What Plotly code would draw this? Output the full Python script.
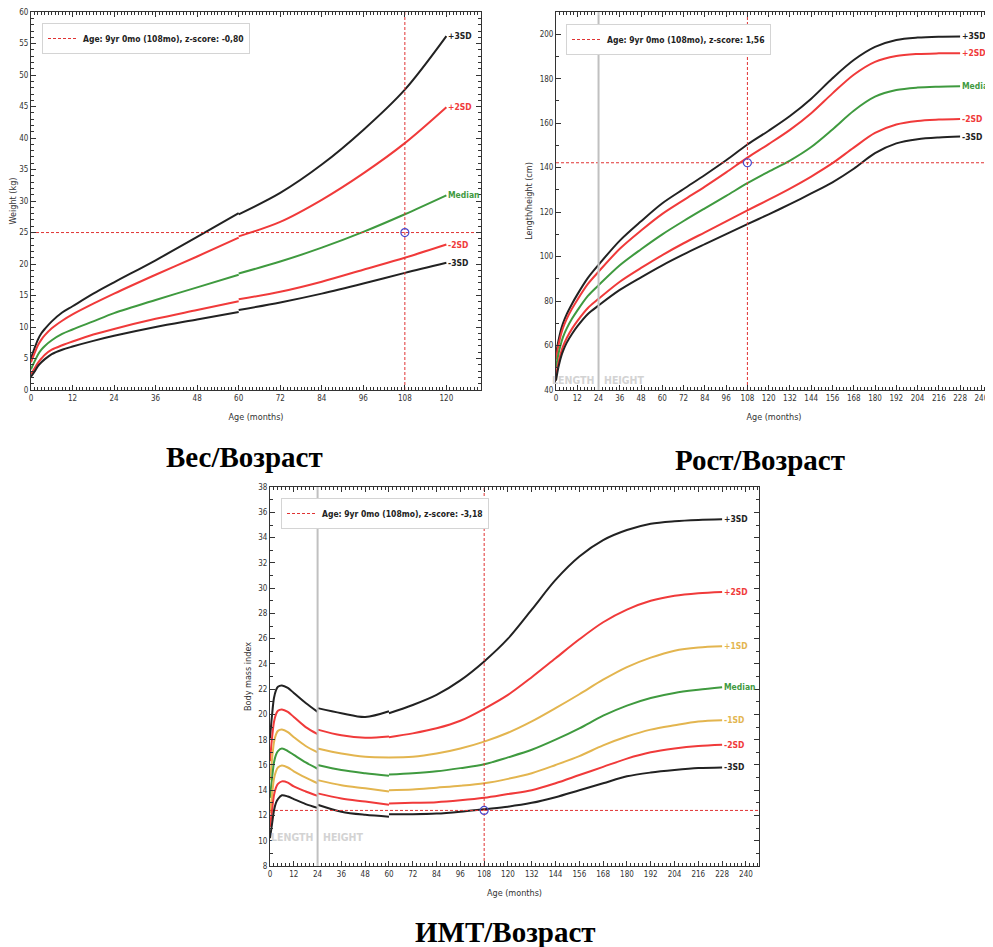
import plotly.graph_objects as go

# ---------------- DATA ----------------
# Weight-for-age (kg); None separates the 0-5 y and 5-10 y references (both start at 60 months)
W_AGES = [0, 1, 2, 3, 4, 6, 9, 12, 18, 24, 36, 48, 60, None, 60, 72, 84, 96, 108, 120]
W_P3 = [5.0, 6.6, 8.0, 9.0, 9.7, 10.9, 12.3, 13.3, 15.3, 17.1, 20.6, 24.3, 28.1, None, 27.9, 31.3, 35.8, 41.3, 47.7, 56.2]
W_P2 = [4.4, 5.8, 7.1, 8.0, 8.7, 9.8, 11.0, 12.0, 13.7, 15.3, 18.3, 21.2, 24.2, None, 24.4, 26.7, 30.2, 34.4, 39.2, 44.9]
W_MED = [3.3, 4.5, 5.6, 6.4, 7.0, 7.9, 8.9, 9.6, 10.9, 12.2, 14.3, 16.3, 18.3, None, 18.5, 20.4, 22.6, 25.1, 27.9, 30.9]
W_M2 = [2.5, 3.4, 4.3, 5.0, 5.6, 6.4, 7.1, 7.7, 8.8, 9.7, 11.3, 12.7, 14.1, None, 14.4, 15.6, 17.2, 19.1, 21.0, 23.1]
W_M3 = [2.1, 2.9, 3.8, 4.4, 4.9, 5.7, 6.4, 6.9, 7.8, 8.6, 10.0, 11.2, 12.4, None, 12.7, 13.9, 15.3, 16.9, 18.6, 20.2]
W_POINT = 25.0
W_LABEL = "Age: 9yr 0mo (108mo), z-score: -0,80"

# Length/height-for-age (cm)
H_AGES = [0, 1, 2, 3, 4, 6, 9, 12, 18, 24, 36, 48, 60, 72, 84, 96, 108, 120, 132, 144, 156, 168, 180, 192, 204, 216, 228]
H_P3 = [55.6, 60.6, 64.4, 67.6, 70.1, 74.0, 78.7, 82.9, 90.4, 96.3, 107.2, 115.9, 124.0, 130.4, 136.7, 143.3, 150.4, 156.6, 163.2, 171.0, 180.2, 188.4, 194.3, 197.4, 198.5, 198.9, 199.0]
H_P2 = [53.7, 58.6, 62.4, 65.5, 68.0, 71.9, 76.5, 80.5, 87.7, 93.2, 103.5, 111.7, 119.2, 125.4, 131.5, 137.9, 144.5, 150.6, 157.0, 164.5, 173.4, 181.8, 187.6, 190.2, 191.1, 191.4, 191.5]
H_MED = [49.9, 54.7, 58.4, 61.4, 63.9, 67.6, 72.0, 75.7, 82.3, 87.1, 96.1, 103.3, 110.0, 116.0, 121.7, 127.3, 133.0, 138.2, 143.2, 149.3, 157.2, 165.6, 171.9, 174.9, 176.0, 176.4, 176.6]
H_M2 = [46.1, 50.8, 54.4, 57.3, 59.7, 63.3, 67.5, 71.0, 76.9, 81.0, 88.7, 94.9, 100.7, 106.0, 110.9, 115.8, 120.8, 125.6, 130.6, 136.0, 142.0, 149.0, 155.6, 159.4, 161.0, 161.6, 161.9]
H_M3 = [44.2, 48.9, 52.4, 55.3, 57.6, 61.2, 65.2, 68.6, 74.2, 78.0, 85.0, 90.7, 96.1, 101.0, 105.6, 110.1, 114.6, 119.0, 123.6, 128.4, 133.4, 139.5, 146.5, 150.9, 152.8, 153.6, 154.0]
H_POINT = 142.2
H_LABEL = "Age: 9yr 0mo (108mo), z-score: 1,56"

# BMI-for-age (None = break between length / height and between the two references)
B_AGES = [0, 1, 2, 3, 4, 6, 9, 12, 18, 24, None, 24, 36, 48, 60, None, 60, 72, 84, 96, 108, 120, 132, 144, 156, 168, 180, 192, 204, 216, 228]
B_P3 = [18.1, 19.9, 21.3, 21.9, 22.2, 22.3, 22.1, 21.7, 20.9, 20.2, None, 20.5, 20.1, 19.8, 20.25, None, 20.1, 20.75, 21.55, 22.7, 24.2, 26.0, 28.3, 30.65, 32.5, 33.8, 34.6, 35.1, 35.3, 35.4, 35.45]
B_P2 = [16.3, 18.1, 19.4, 20.0, 20.3, 20.4, 20.2, 19.8, 19.0, 18.45, None, 18.8, 18.35, 18.15, 18.25, None, 18.2, 18.5, 18.9, 19.5, 20.45, 21.55, 22.95, 24.45, 25.95, 27.3, 28.3, 29.0, 29.4, 29.6, 29.7]
B_P1 = [14.8, 16.4, 17.8, 18.4, 18.7, 18.8, 18.6, 18.2, 17.5, 17.0, None, 17.3, 16.9, 16.65, 16.6, None, 16.6, 16.65, 16.9, 17.3, 17.85, 18.55, 19.45, 20.5, 21.6, 22.75, 23.75, 24.5, 25.05, 25.3, 25.4]
B_MED = [13.4, 14.9, 16.2, 16.8, 17.1, 17.3, 17.1, 16.8, 16.2, 15.7, None, 16.0, 15.6, 15.35, 15.15, None, 15.25, 15.35, 15.5, 15.75, 16.05, 16.6, 17.2, 18.0, 18.9, 19.9, 20.7, 21.3, 21.7, 21.95, 22.15]
B_M1 = [12.2, 13.6, 14.9, 15.5, 15.8, 15.95, 15.8, 15.5, 15.0, 14.55, None, 14.8, 14.4, 14.15, 13.9, None, 14.0, 14.05, 14.2, 14.35, 14.55, 14.9, 15.35, 16.0, 16.7, 17.55, 18.25, 18.8, 19.15, 19.45, 19.55]
B_M2 = [11.1, 12.4, 13.6, 14.2, 14.5, 14.7, 14.6, 14.3, 13.9, 13.55, None, 13.75, 13.35, 13.1, 12.85, None, 12.95, 13.0, 13.05, 13.2, 13.4, 13.7, 14.0, 14.55, 15.2, 15.85, 16.5, 17.0, 17.3, 17.5, 17.6]
B_M3 = [10.2, 11.3, 12.4, 13.0, 13.3, 13.6, 13.5, 13.3, 12.9, 12.6, None, 12.85, 12.3, 12.05, 11.9, None, 12.1, 12.1, 12.15, 12.3, 12.5, 12.7, 13.0, 13.45, 14.0, 14.55, 15.1, 15.4, 15.6, 15.75, 15.8]
B_POINT = 12.4
B_LABEL = "Age: 9yr 0mo (108mo), z-score: -3,18"

POINT_AGE = 108
SWITCH_AGE = 24

TITLES = ["Вес/Возраст", "Рост/Возраст", "ИМТ/Возраст"]

# ---------------- STYLE ----------------
PAGE_OFFSET = 8          # default body margin of the html page
W, H = 993 - PAGE_OFFSET, 947 - PAGE_OFFSET
FONT = "Liberation Sans Narrow, Arial Narrow, DejaVu Sans Condensed, Liberation Sans, Arial, sans-serif"
SERIF = "Liberation Serif, Times New Roman, serif"
BLACK = "#222222"
RED = "#f03a3a"
GREEN = "#3f9a3f"
GOLD = "#e3b54f"
AX = "#333333"

fig = go.Figure()


def add_curves(ages, series, xa, ya):
    for name, vals, color in series:
        fig.add_trace(go.Scatter(
            x=ages, y=vals, mode="lines", xaxis=xa, yaxis=ya,
            line=dict(color=color, width=2, shape="spline", smoothing=0.9),
            connectgaps=False, showlegend=False, hoverinfo="skip"))
        lastx = [a for a in ages if a is not None][-1]
        lasty = [v for v in vals if v is not None][-1]
        fig.add_annotation(x=lastx, y=lasty, xref=xa, yref=ya, text=name,
                           showarrow=False, xanchor="left", xshift=0,
                           font=dict(color=color, size=8.5, family=FONT, weight="bold"))


def add_point(xa, ya, legend, label, val, xr, yr):
    fig.add_trace(go.Scatter(
        x=[POINT_AGE, POINT_AGE, None, xr[0], xr[1]],
        y=[yr[0], yr[1], None, val, val],
        mode="lines", xaxis=xa, yaxis=ya, name=label, legend=legend,
        line=dict(color="#e03333", width=1, dash="3px,2px"),
        connectgaps=False, showlegend=True, hoverinfo="skip"))
    fig.add_trace(go.Scatter(
        x=[POINT_AGE], y=[val], mode="markers", xaxis=xa, yaxis=ya,
        marker=dict(symbol="circle-open", size=8, color="#4a4acc", line=dict(width=1.2)),
        showlegend=False, hoverinfo="skip"))


W_XR, W_YR = [0, 130], [0, 60.02]
H_XR, H_YR = [0, 246], [40, 210]
B_XR, B_YR = [0, 246.6], [8, 38.01]

add_curves(W_AGES, [("+3SD", W_P3, BLACK), ("+2SD", W_P2, RED), ("Median", W_MED, GREEN),
                    ("-2SD", W_M2, RED), ("-3SD", W_M3, BLACK)], "x", "y")
add_point("x", "y", "legend", W_LABEL, W_POINT, W_XR, W_YR)

add_curves(H_AGES, [("+3SD", H_P3, BLACK), ("+2SD", H_P2, RED), ("Median", H_MED, GREEN),
                    ("-2SD", H_M2, RED), ("-3SD", H_M3, BLACK)], "x2", "y2")
add_point("x2", "y2", "legend2", H_LABEL, H_POINT, H_XR, H_YR)

add_curves(B_AGES, [("+3SD", B_P3, BLACK), ("+2SD", B_P2, RED), ("+1SD", B_P1, GOLD),
                    ("Median", B_MED, GREEN), ("-1SD", B_M1, GOLD), ("-2SD", B_M2, RED),
                    ("-3SD", B_M3, BLACK)], "x3", "y3")
add_point("x3", "y3", "legend3", B_LABEL, B_POINT, B_XR, B_YR)


def axis(domain, rng, dtick, minor, title, anchor, standoff):
    return dict(
        domain=domain, range=rng, dtick=dtick, tick0=0, anchor=anchor,
        showline=True, linecolor=AX, linewidth=1, mirror="ticks",
        ticks="inside", ticklen=5, tickwidth=1, tickcolor=AX,
        minor=dict(ticks="inside", ticklen=3, tickcolor=AX, dtick=minor, tick0=0, showgrid=False),
        showgrid=False, zeroline=False, automargin=False, ticklabeloverflow="allow",
        tickfont=dict(size=8, color=AX, family=FONT),
        title=dict(text=title, font=dict(size=9, color=AX, family=FONT), standoff=standoff),
    )


def px_x(p):
    return (p - PAGE_OFFSET) / W


def px_y(p):
    return 1 - (p - PAGE_OFFSET) / H


top_dom = [px_y(390), px_y(12)]
fig.update_layout(
    xaxis=axis([px_x(31), px_x(481)], W_XR, 12, 1, "Age (months)", "y", 12),
    yaxis=axis(top_dom, W_YR, 5, 1, "Weight (kg)", "x", 5),
    xaxis2=axis([px_x(556), px_x(992)], H_XR, 12, 2, "Age (months)", "y2", 12),
    yaxis2=axis(top_dom, H_YR, 20, 10, "Length/height (cm)", "x2", 5),
    xaxis3=axis([px_x(270), px_x(759)], B_XR, 12, 2, "Age (months)", "y3", 12),
    yaxis3=axis([px_y(866), px_y(487)], B_YR, 2, 1, "Body mass index", "x3", 5),
)

legend_style = dict(xanchor="left", yanchor="top", bgcolor="white", bordercolor="#d4d4d4",
                    borderwidth=1, itemwidth=30,
                    font=dict(size=8.5, family=FONT, color="#222", weight="bold"))
fig.update_layout(
    legend=dict(x=px_x(42), y=px_y(23), **legend_style),
    legend2=dict(x=px_x(566), y=px_y(24), **legend_style),
    legend3=dict(x=px_x(281), y=px_y(498), **legend_style),
)

# length / height switch marker
for xa, ya, txt_y in [("x2", "y2", 44.5), ("x3", "y3", 10.3)]:
    fig.add_shape(type="line", xref=xa, yref=ya + " domain",
                  x0=SWITCH_AGE, x1=SWITCH_AGE, y0=0, y1=1,
                  line=dict(color="#c0c0c0", width=2), layer="above")
    fig.add_annotation(x=SWITCH_AGE, y=txt_y, xref=xa, yref=ya, text="LENGTH", showarrow=False,
                       xanchor="right", xshift=-3,
                       font=dict(size=10.5, color="#d3d3d3", family=FONT, weight="bold"))
    fig.add_annotation(x=SWITCH_AGE, y=txt_y, xref=xa, yref=ya, text="HEIGHT", showarrow=False,
                       xanchor="left", xshift=3,
                       font=dict(size=10.5, color="#d3d3d3", family=FONT, weight="bold"))

# chart titles
for txt, cx, cy in [(TITLES[0], 244, 457), (TITLES[1], 760, 460), (TITLES[2], 505, 932)]:
    fig.add_annotation(x=px_x(cx), y=px_y(cy), xref="paper", yref="paper", text=txt,
                       showarrow=False, xanchor="center", yanchor="middle",
                       font=dict(size=29, family=SERIF, color="black", weight="bold"))

fig.update_layout(
    width=W, height=H, margin=dict(l=0, r=0, t=0, b=0),
    paper_bgcolor="white", plot_bgcolor="white", showlegend=True,
)

fig.write_html("out.html")
